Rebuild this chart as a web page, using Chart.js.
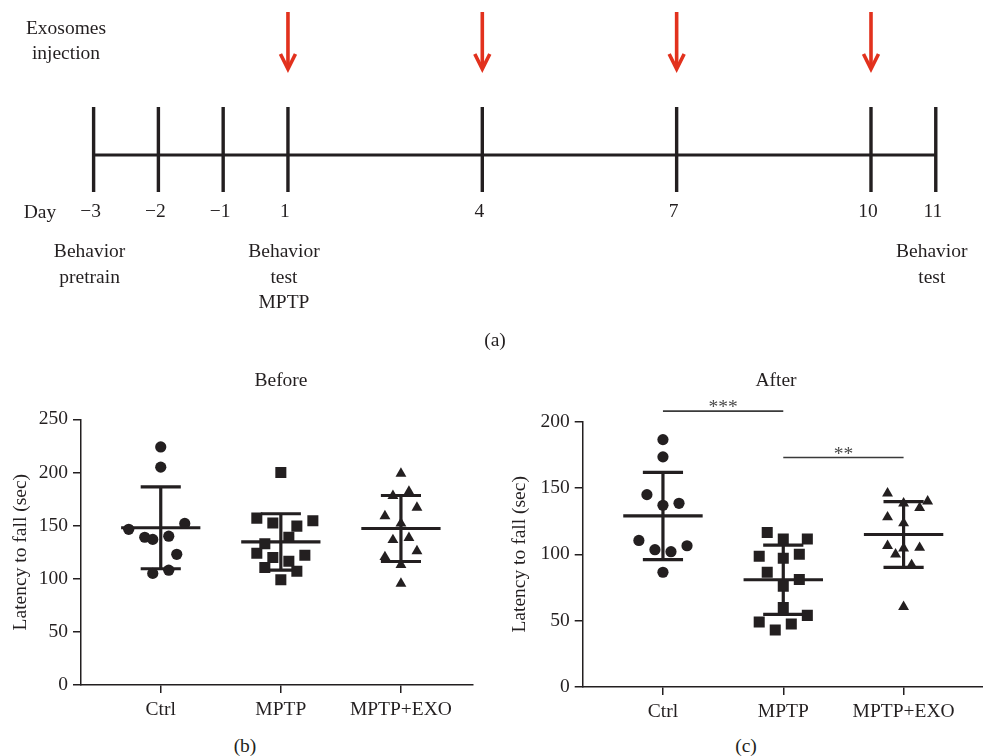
<!DOCTYPE html>
<html>
<head>
<meta charset="utf-8">
<script src="https://cdn.jsdelivr.net/npm/chart.js@4/dist/chart.umd.min.js"></script>
<style>
  html, body { margin:0; padding:0; background:#fff; }
  body { width:983px; height:756px; position:relative; overflow:hidden; font-family:"Liberation Serif","Times New Roman",serif; color:#231f20; }
  canvas { position:absolute; display:block; }
  .lbl { position:absolute; font-size:19.5px; line-height:1; transform:translate(-50%,-50%); white-space:nowrap; text-align:center; }
</style>
</head>
<body>
<canvas id="ca" width="983" height="360" style="left:0;top:0"></canvas>
<canvas id="cb" width="490" height="370" style="left:0;top:360px"></canvas>
<canvas id="cc" width="493" height="372" style="left:490px;top:360px"></canvas>

<div class="lbl" style="left:66px;top:40px;line-height:25px">Exosomes<br>injection</div>
<div class="lbl" style="left:40px;top:212px">Day</div>
<div class="lbl" style="left:495px;top:340px">(a)</div>
<div class="lbl" style="left:281px;top:380px">Before</div>
<div class="lbl" style="left:776px;top:380px">After</div>
<div class="lbl" style="left:245px;top:746px">(b)</div>
<div class="lbl" style="left:746px;top:746px">(c)</div>

<script>
// ---------------- data ----------------
const categories = ['Ctrl', 'MPTP', 'MPTP+EXO'];

// Panel (b) "Before" – latency to fall (sec)
const beforeCtrl = [224, 205, 146.5, 152, 139, 137, 140, 123, 105, 108];
const beforeMPTP = [200, 157, 152.5, 149.5, 154.5, 139, 133, 124, 120, 116.5, 122, 110.5, 107, 99];
const beforeEXO  = [199, 182, 178, 167, 159, 152, 136.5, 138.5, 126, 120.5, 113, 95.5];
// horizontal scatter offsets (in marker steps)
const beforeCtrlJitter = [0, 0, -4, 3, -2, -1, 1, 2, -1, 1];
const beforeMPTPJitter = [0, -3, -1, 2, 4, 1, -2, -3, -1, 1, 3, -2, 2, 0];
const beforeEXOJitter  = [0, 1, -1, 2, -2, 0, -1, 1, 2, -2, 0, 0];

// Panel (c) "After"
const afterCtrl = [186.5, 173.5, 145, 137, 138.5, 110.5, 103.5, 102, 106.5, 86.5];
const afterMPTP = [116.5, 111.5, 111.5, 98.5, 97, 100, 86.5, 81, 76, 60, 54, 49, 47.5, 43];
const afterEXO  = [146, 138.5, 140, 135, 128, 123.5, 106.5, 104.5, 105, 100, 92, 60.5];
const afterCtrlJitter = [0, 0, -2, 0, 2, -3, -1, 1, 3, 0];
const afterMPTPJitter = [-2, 0, 3, -3, 0, 2, -2, 2, 0, 0, 3, -3, 1, -1];
const afterEXOJitter  = [-2, 0, 3, 2, -2, 0, -2, 0, 2, -1, 1, 0];

const yTicksBefore = [0, 50, 100, 150, 200, 250];
const yTicksAfter  = [0, 50, 100, 150, 200];

// significance brackets in (c)
const sigFrom   = [0, 1];
const sigTo     = [1, 2];
const sigLevel  = [208, 173];
const sigLabels = ['***', '**'];

// Panel (a) timeline
const timelineDays  = [-3, -2, -1, 1, 4, 7, 10, 11];
const injectionDays = [1, 4, 7, 10];
const eventDays   = [-3, 1, 11];
const eventLabels = [['Behavior', 'pretrain'], ['Behavior', 'test', 'MPTP'], ['Behavior', 'test']];

// ---------------- helpers ----------------
const INK = '#231f20';
const RED = '#e2311d';
const FONT = '"Liberation Serif", "Times New Roman", serif';
const FS = 19.5;
const JITTER_STEP = 1 / 15;

const mean = a => a.reduce((s, v) => s + v, 0) / a.length;
const sd = a => { const m = mean(a); return Math.sqrt(a.reduce((s, v) => s + (v - m) ** 2, 0) / (a.length - 1)); };
// timeline position: day 0 does not exist on the schedule
const pos = d => (d < 0 ? d + 1 : d);
const dayText = d => (d < 0 ? '\u2212' + Math.abs(d) : String(d));

// ---------------- panel (a) ----------------
const tickSegments = [];
timelineDays.forEach(d => {
  tickSegments.push({ x: pos(d), y: 48 }, { x: pos(d), y: -37 }, { x: pos(d), y: null });
});

const timelinePlugin = {
  id: 'timeline',
  afterDatasetsDraw(chart) {
    const { ctx, scales: { x, y } } = chart;
    ctx.save();
    // arrows
    ctx.strokeStyle = RED;
    ctx.lineWidth = 3.6;
    ctx.lineCap = 'butt';
    ctx.lineJoin = 'miter';
    injectionDays.forEach(d => {
      const px = x.getPixelForValue(pos(d));
      const top = y.getPixelForValue(143), tip = y.getPixelForValue(85);
      ctx.beginPath(); ctx.moveTo(px, top); ctx.lineTo(px, tip - 3); ctx.stroke();
      ctx.beginPath(); ctx.moveTo(px - 7.5, tip - 16); ctx.lineTo(px, tip - 1); ctx.lineTo(px + 7.5, tip - 16); ctx.stroke();
    });
    // day labels
    ctx.fillStyle = INK;
    ctx.font = FS + 'px ' + FONT;
    ctx.textAlign = 'center';
    ctx.textBaseline = 'middle';
    timelineDays.forEach(d => {
      ctx.fillText(dayText(d), x.getPixelForValue(pos(d)) - 3, y.getPixelForValue(-57));
    });
    // event labels
    eventDays.forEach((d, i) => {
      const px = x.getPixelForValue(pos(d)) - 4;
      eventLabels[i].forEach((t, k) => {
        ctx.fillText(t, px, y.getPixelForValue(-97 - 25.5 * k));
      });
    });
    ctx.restore();
  }
};

new Chart(document.getElementById('ca'), {
  type: 'line',
  data: {
    datasets: [
      { data: [{ x: pos(timelineDays[0]), y: 0 }, { x: pos(timelineDays[timelineDays.length - 1]), y: 0 }],
        borderColor: INK, borderWidth: 3, pointRadius: 0, borderCapStyle: 'butt' },
      { data: tickSegments, borderColor: INK, borderWidth: 3.4, pointRadius: 0, spanGaps: false, borderCapStyle: 'butt' }
    ]
  },
  options: {
    responsive: false, animation: false,
    layout: { padding: 0, autoPadding: false },
    plugins: { legend: { display: false }, tooltip: { enabled: false } },
    scales: {
      x: { type: 'linear', display: false, min: -3.445, max: 11.729 },
      y: { type: 'linear', display: false, min: -205, max: 155 }
    }
  },
  plugins: [timelinePlugin]
});

// ---------------- panels (b) and (c) ----------------
const sigPlugin = {
  id: 'sigText',
  afterDatasetsDraw(chart, args, opts) {
    if (!opts || !opts.labels) return;
    const { ctx, scales: { x, y } } = chart;
    ctx.save();
    ctx.fillStyle = '#4a4a4a';
    ctx.font = FS + 'px ' + FONT;
    ctx.textAlign = 'center';
    ctx.textBaseline = 'alphabetic';
    opts.labels.forEach((t, i) => {
      const px = (x.getPixelForValue(opts.from[i]) + x.getPixelForValue(opts.to[i])) / 2;
      ctx.fillText(t, px, y.getPixelForValue(opts.level[i]) + 2);
    });
    ctx.restore();
  }
};

function buildPanel(canvasId, vals, jit, yTicks, g, sig) {
  const styles = ['circle', 'rect', 'triangle'];
  const radii = [5.6, 7.8, 6.3];
  const datasets = vals.map((v, i) => ({
    type: 'scatter',
    data: v.map((val, k) => ({ x: i + jit[i][k] * JITTER_STEP, y: val })),
    pointStyle: styles[i], pointRadius: radii[i], pointHoverRadius: radii[i],
    backgroundColor: INK, borderColor: INK, borderWidth: 0, pointBorderWidth: 0
  }));
  const bars = [];
  vals.forEach((v, i) => {
    const m = mean(v), s = sd(v);
    bars.push(
      { x: i - 0.33, y: m }, { x: i + 0.33, y: m }, { x: i, y: null },
      { x: i - 0.167, y: m + s }, { x: i + 0.167, y: m + s }, { x: i, y: null },
      { x: i - 0.167, y: m - s }, { x: i + 0.167, y: m - s }, { x: i, y: null },
      { x: i, y: m - s }, { x: i, y: m + s }, { x: i, y: null }
    );
  });
  datasets.push({ type: 'line', data: bars, borderColor: INK, borderWidth: 3.2, pointRadius: 0,
    spanGaps: false, fill: false, tension: 0, borderCapStyle: 'butt' });
  if (sig) {
    sig.labels.forEach((_, i) => {
      datasets.push({ type: 'line', data: [{ x: sig.from[i], y: sig.level[i] }, { x: sig.to[i], y: sig.level[i] }],
        borderColor: '#3a3a3a', borderWidth: 1.6, pointRadius: 0, clip: false });
    });
  }
  const tickFont = { family: FONT, size: FS };
  return new Chart(document.getElementById(canvasId), {
    type: 'scatter',
    data: { datasets },
    options: {
      responsive: false, animation: false,
      layout: { padding: { left: 0, right: g.padRight, top: g.padTop, bottom: 0 }, autoPadding: false },
      plugins: { legend: { display: false }, tooltip: { enabled: false }, sigText: sig || {} },
      scales: {
        x: {
          type: 'linear', min: g.xmin, max: g.xmax,
          afterBuildTicks: ax => { ax.ticks = categories.map((_, i) => ({ value: i })); },
          afterFit: ax => { ax.height = 45; },
          ticks: { callback: v => categories[v] ?? '', font: tickFont, color: INK, padding: 5, maxRotation: 0, autoSkip: false },
          grid: { drawOnChartArea: false, drawTicks: true, tickLength: 8, color: INK, lineWidth: 1.5 },
          border: { display: true, color: INK, width: 1.5 }
        },
        y: {
          type: 'linear', min: yTicks[0], max: yTicks[yTicks.length - 1],
          afterBuildTicks: ax => { ax.ticks = yTicks.map(v => ({ value: v })); },
          afterFit: ax => { ax.width = g.yWidth; },
          ticks: { font: tickFont, color: INK, padding: 5 },
          grid: { drawOnChartArea: false, drawTicks: true, tickLength: 8, color: INK, lineWidth: 1.5 },
          border: { display: true, color: INK, width: 1.5 },
          title: { display: true, text: 'Latency to fall (sec)', font: tickFont, color: INK, padding: { top: g.titlePad, bottom: 0 } }
        }
      }
    },
    plugins: [sigPlugin]
  });
}

buildPanel('cb',
  [beforeCtrl, beforeMPTP, beforeEXO],
  [beforeCtrlJitter, beforeMPTPJitter, beforeEXOJitter],
  yTicksBefore,
  { xmin: -0.664, xmax: 2.6, padRight: 17, padTop: 59.3, yWidth: 81, titlePad: 9.5 },
  null);

buildPanel('cc',
  [afterCtrl, afterMPTP, afterEXO],
  [afterCtrlJitter, afterMPTPJitter, afterEXOJitter],
  yTicksAfter,
  { xmin: -0.667, xmax: 2.66, padRight: 0, padTop: 61.7, yWidth: 92.7, titlePad: 18.5 },
  { from: sigFrom, to: sigTo, level: sigLevel, labels: sigLabels });
</script>
</body>
</html>
